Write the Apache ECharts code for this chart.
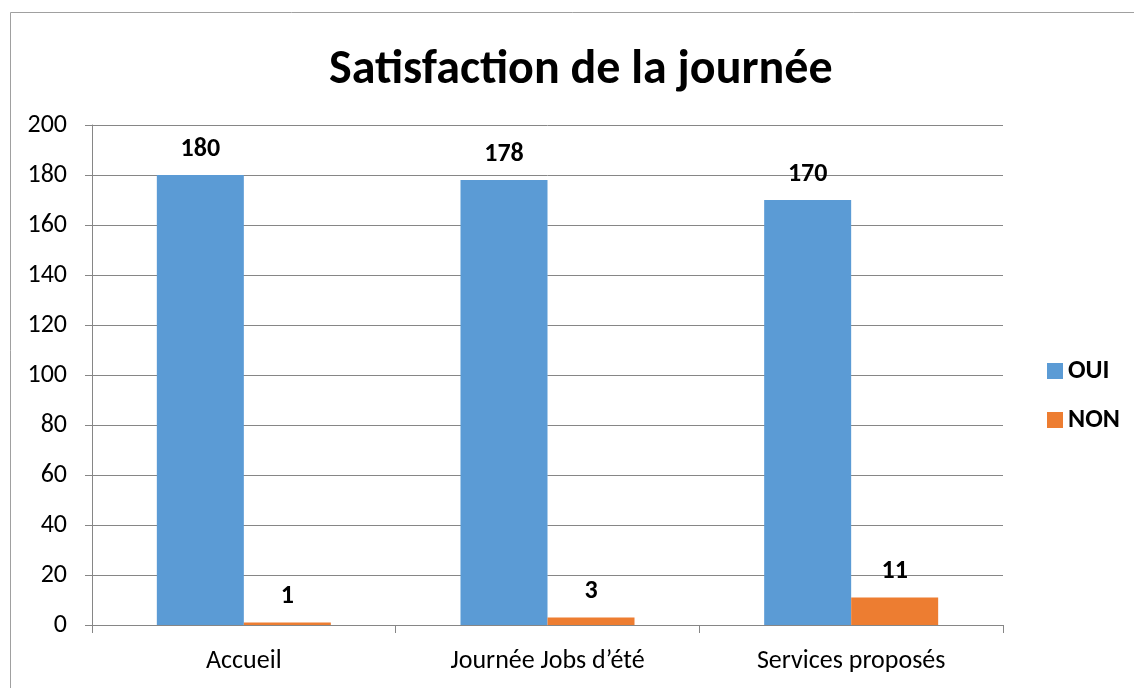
<!DOCTYPE html>
<html>
<head>
<meta charset="utf-8">
<script src="https://cdn.jsdelivr.net/npm/echarts@6/dist/echarts.min.js"></script>
<style>
    html, body { margin: 0; padding: 0; background: #fff; }
    #chart { width: 1134px; height: 688px; }
</style>
</head>
<body>
<div id="chart"></div>
<script>
    // données
    var categories = ['Accueil', 'Journée Jobs d\u2019été', 'Services proposés'];
    var ouiValues = [180, 178, 170];
    var nonValues = [1, 3, 11];

    var myChart = echarts.init(document.getElementById('chart'));
    var font = 'Carlito, "Open Sans", "Liberation Sans", sans-serif';

    var barLabel = {
        show: true,
        position: 'top',
        distance: 13,
        color: '#000',
        fontWeight: 'bold',
        fontSize: 26,
        fontFamily: font
    };

    var option = {
        animation: false,
        backgroundColor: '#fff',
        title: {
            text: 'Satisfaction de la journée',
            left: 324,
            top: 42,
            textStyle: {
                fontSize: 48,
                fontWeight: 'bold',
                color: '#000',
                fontFamily: font
            }
        },
        legend: {
            orient: 'vertical',
            left: 1042,
            top: 353,
            itemWidth: 16,
            itemHeight: 16,
            itemGap: 23,
            icon: 'rect',
            textStyle: {
                fontSize: 26,
                fontWeight: 'bold',
                color: '#000',
                fontFamily: font,
                padding: [0, 0, 0, 0]
            },
            data: ['OUI', 'NON']
        },
        grid: {
            left: 92,
            right: 131,
            top: 125,
            bottom: 63,
            containLabel: false
        },
        graphic: [{
            type: 'rect',
            shape: { x: 10.5, y: 12.5, width: 1200, height: 800 },
            style: { fill: 'none', stroke: '#a0a0a0', lineWidth: 1 },
            silent: true
        }],
        xAxis: {
            type: 'category',
            data: categories,
            axisLine: { lineStyle: { color: '#868686', width: 1 } },
            axisTick: { show: true, length: 8, lineStyle: { color: '#868686' } },
            axisLabel: {
                color: '#000',
                fontSize: 26,
                fontFamily: font,
                margin: 23
            }
        },
        yAxis: {
            type: 'value',
            min: 0,
            max: 200,
            interval: 20,
            axisLine: { show: true, lineStyle: { color: '#868686' } },
            axisTick: { show: true, length: 7, lineStyle: { color: '#868686' } },
            axisLabel: {
                color: '#000',
                fontSize: 26,
                fontFamily: font,
                margin: 25
            },
            splitLine: { lineStyle: { color: '#868686', width: 1 } }
        },
        series: [{
            name: 'OUI',
            type: 'bar',
            data: ouiValues,
            barGap: '0%',
            barCategoryGap: '42.7%',
            itemStyle: { color: '#5B9BD5' },
            label: barLabel
        }, {
            name: 'NON',
            type: 'bar',
            data: nonValues,
            itemStyle: { color: '#ED7D31' },
            label: barLabel
        }]
    };

    myChart.setOption(option);
</script>
</body>
</html>
